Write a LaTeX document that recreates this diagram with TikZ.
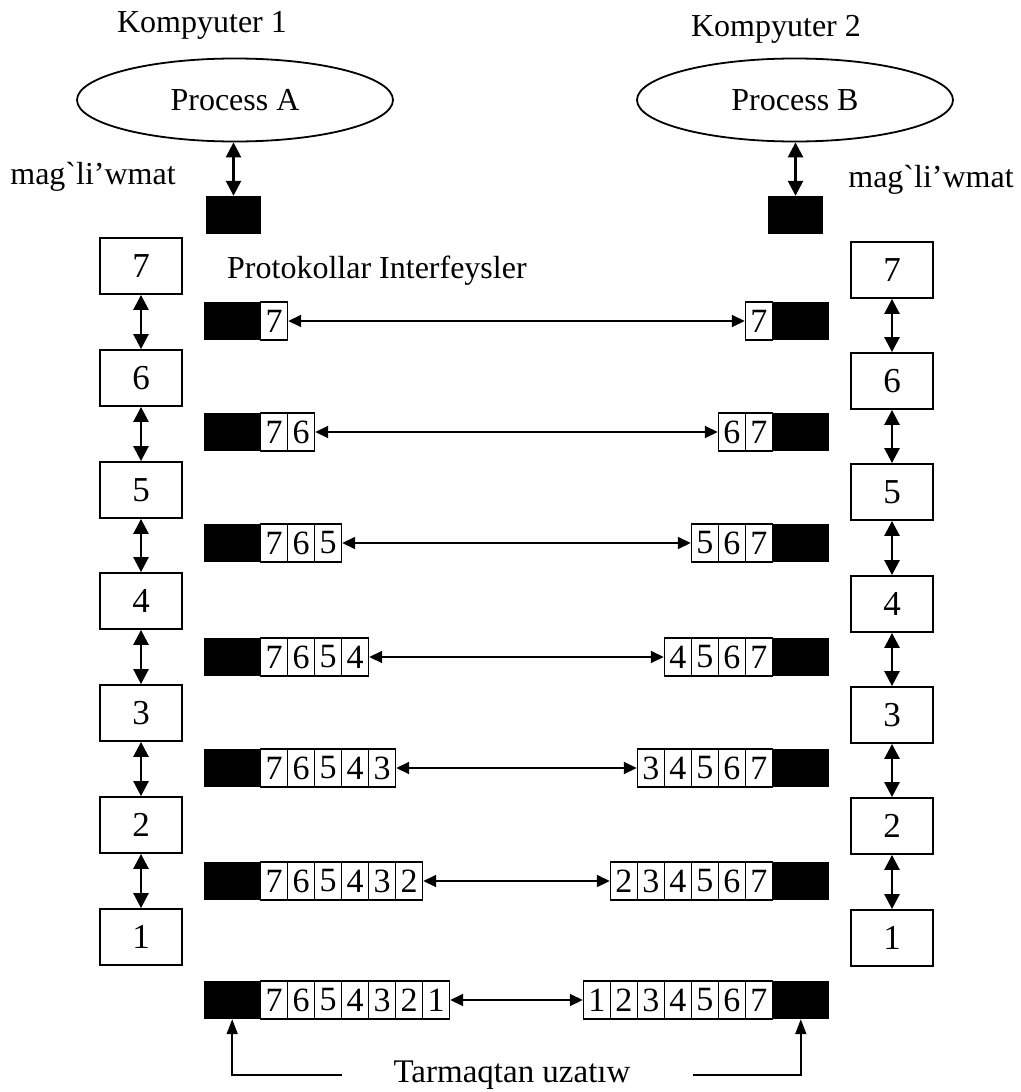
\documentclass[tikz,border=0pt]{standalone}
\usepackage{fontspec}
\setmainfont{Liberation Serif}
\usetikzlibrary{arrows.meta,shapes.geometric,positioning}

\begin{document}
\begin{tikzpicture}[x=1pt,y=-1pt,
    lbl/.style={inner sep=0pt,font=\fontsize{32}{32}\selectfont},
    proc/.style={ellipse,draw,line width=1.8pt,minimum width=316pt,minimum height=83pt,
                 inner sep=0pt,font=\fontsize{32}{32}\selectfont},
    layer/.style={draw,line width=1.8pt,minimum width=82pt,minimum height=56pt,
                  inner sep=0pt,font=\fontsize{35}{35}\selectfont},
    blk/.style={fill=black,minimum width=56pt,minimum height=38pt,inner sep=0pt},
    cell/.style={draw,line width=1.2pt,minimum width=27pt,minimum height=38pt,
                 inner sep=0pt,font=\fontsize{34}{34}\selectfont},
    vlink/.style={line width=2.6pt,{Triangle[length=15pt,width=15pt]}-{Triangle[length=15pt,width=15pt]}},
    hlink/.style={line width=1.7pt,{Triangle[length=13pt,width=12pt]}-{Triangle[length=13pt,width=12pt]}},
    feed/.style={line width=1.8pt,-{Triangle[length=15pt,width=11pt]}}]
 \useasboundingbox (0,0) rectangle (1020,1092);
 % two computers
 \node[lbl] (k-1) at (202,25) {Kompyuter 1};
 \node[lbl] (k-2) at (776,29) {Kompyuter 2};
 \node[proc] (p-a) at (235,100) {Process A};
 \node[proc] (p-b) at (795,100) {Process B};
 \node[blk,minimum width=55pt] (m-a) at (233.5,215) {};
 \node[blk,minimum width=55pt] (m-b) at (795.5,215) {};
 \draw[vlink] (m-a.north |- p-a.south) -- (m-a.north);
 \draw[vlink] (m-b.north |- p-b.south) -- (m-b.north);
 \node[lbl] (d-a) at (93,177) {mag\textasciigrave li’wmat};
 \node[lbl] (d-b) at (931,180) {mag\textasciigrave li’wmat};
 \node[lbl,anchor=west] (pi) at (227,271) {Protokollar Interfeysler};
 % layer stacks
 \foreach \L/\YA/\YB [count=\i,remember=\L as \P] in
   {7/266/270,6/378/381,5/490/492,4/601/604,3/713/715,2/825/826,1/937/938}
 {\node[layer] (a-\L) at (141,\YA) {\L};
  \node[layer] (b-\L) at (892,\YB) {\L};
  \ifnum\i>1
   \draw[vlink] (a-\P) -- (a-\L);
   \draw[vlink] (b-\P) -- (b-\L);
  \fi
 }
 % headers added on the way down
 \foreach \L/\Y in {7/321,6/432,5/543,4/657,3/768,2/881,1/1000}
 {\node[blk,anchor=west] (lb-\L) at (204,\Y) {};
  \node[blk,anchor=east] (rb-\L) at (829,\Y) {};
  \foreach \C in {7,...,\L}
  {\node[cell,anchor=west] (lc-\L-\C) at (260+27*7-27*\C,\Y) {\C};
   \node[cell,anchor=east] (rc-\L-\C) at (773-27*7+27*\C,\Y) {\C};
  }
  \draw[hlink] (lc-\L-\L.east) -- (rc-\L-\L.west);
 }
 % network
 \node[lbl,anchor=base,font=\fontsize{33}{33}\selectfont] (net) at (512,1082) {Tarmaqtan uzatıw};
 \coordinate (n-a) at (342,1075);
 \coordinate (n-b) at (693,1075);
 \draw[feed] (n-a) -| (lb-1.south);
 \draw[feed] (n-b) -| (rb-1.south);
\end{tikzpicture}
\end{document}
